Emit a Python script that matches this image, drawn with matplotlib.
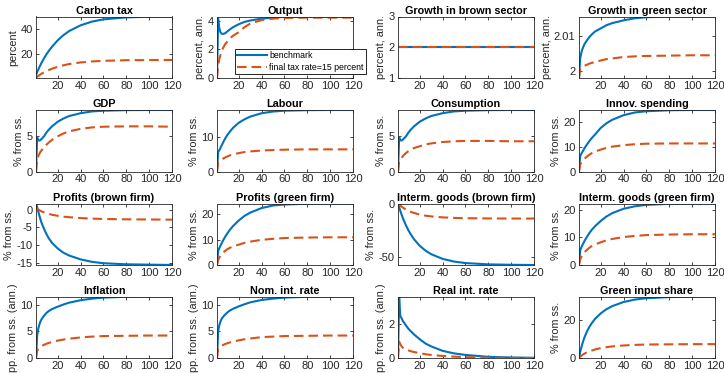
import matplotlib
matplotlib.use("Agg")
import matplotlib.pyplot as plt
from matplotlib.ticker import FixedLocator, FuncFormatter

plt.rcParams['font.family'] = ['Liberation Sans', 'DejaVu Sans']

# sample periods at which values were read
t = [1, 2, 3, 4, 5, 6, 8, 10, 12, 15, 20, 25, 30, 40, 50, 60, 80, 100, 120]

titles = ["Carbon tax", "Output", "Growth in brown sector", "Growth in green sector",
          "GDP", "Labour", "Consumption", "Innov. spending",
          "Profits (brown firm)", "Profits (green firm)", "Interm. goods (brown firm)", "Interm. goods (green firm)",
          "Inflation", "Nom. int. rate", "Real int. rate", "Green input share"]

ylabels = ["percent", "percent, ann.", "percent, ann.", "percent, ann.",
           "% from ss.", "% from ss.", "% from ss.", "% from ss.",
           "% from ss.", "% from ss.", "% from ss.", "% from ss.",
           "pp. from ss. (ann.)", "pp. from ss. (ann.)", "pp. from ss. (ann.)", "% from ss."]

benchmark = [
    # Carbon tax
    [3.0, 5.2, 7.3, 9.3, 11.2, 13.0, 16.3, 19.3, 22.0, 25.6, 30.8, 34.9, 38.2, 42.8, 45.8, 47.6, 49.2, 49.7, 49.9],
    # Output
    [0.0, 4.15, 3.5, 3.2, 3.1, 3.08, 3.12, 3.25, 3.38, 3.55, 3.76, 3.92, 4.02, 4.15, 4.23, 4.27, 4.3, 4.3, 4.3],
    # Growth brown
    [2.0] * 19,
    # Growth green
    [1.998, 2.0036, 2.0052, 2.0063, 2.0071, 2.0078, 2.0088, 2.0097, 2.0104, 2.0113, 2.0122, 2.0131, 2.0137, 2.0145, 2.0151, 2.0154, 2.0156, 2.0156, 2.0156],
    # GDP
    [0.0, 4.8, 4.4, 4.35, 4.45, 4.6, 4.95, 5.45, 5.85, 6.35, 7.0, 7.45, 7.8, 8.2, 8.45, 8.55, 8.63, 8.65, 8.65],
    # Labour
    [0.0, 5.8, 6.2, 6.9, 7.6, 8.3, 9.6, 10.7, 11.6, 12.8, 14.3, 15.3, 16.1, 17.1, 17.6, 17.85, 18.0, 18.05, 18.05],
    # Consumption
    [0.0, 4.8, 4.4, 4.35, 4.45, 4.6, 4.95, 5.45, 5.85, 6.35, 7.0, 7.45, 7.8, 8.2, 8.45, 8.55, 8.63, 8.65, 8.65],
    # Innov. spending
    [0.0, 6.3, 7.2, 8.0, 8.8, 9.6, 11.0, 12.3, 13.5, 15.0, 17.7, 19.6, 21.0, 22.9, 24.0, 24.5, 24.9, 25.0, 25.0],
    # Profits brown
    [1.8, 0.8, -0.5, -1.7, -2.8, -3.8, -5.4, -6.8, -8.0, -9.4, -11.0, -12.2, -13.0, -14.1, -14.8, -15.2, -15.5, -15.6, -15.7],
    # Profits green
    [0.0, 5.5, 6.6, 7.6, 8.5, 9.4, 11.0, 12.4, 13.7, 15.3, 17.5, 19.3, 20.6, 22.4, 23.4, 23.8, 24.1, 24.2, 24.2],
    # Interm brown
    [0.0, -3.5, -6.8, -9.9, -12.8, -15.5, -20.4, -24.7, -28.4, -33.2, -39.3, -43.8, -47.1, -51.5, -54.0, -55.4, -56.6, -57.0, -57.2],
    # Interm green
    [0.0, 5.3, 6.3, 7.2, 8.0, 8.8, 10.2, 11.5, 12.6, 14.0, 15.9, 17.5, 18.7, 20.3, 21.2, 21.7, 22.1, 22.2, 22.2],
    # Inflation
    [0.0, 4.2, 5.5, 6.3, 6.9, 7.3, 7.9, 8.4, 8.75, 9.15, 9.6, 10.0, 10.35, 10.8, 11.1, 11.3, 11.45, 11.5, 11.5],
    # Nom. int. rate
    [0.0, 5.0, 6.1, 6.8, 7.3, 7.6, 8.1, 8.5, 8.85, 9.2, 9.65, 10.05, 10.4, 10.85, 11.1, 11.3, 11.45, 11.5, 11.5],
    # Real int. rate
    [0.0, 3.6, 2.45, 2.35, 2.2, 2.1, 1.9, 1.72, 1.58, 1.38, 1.1, 0.85, 0.68, 0.42, 0.27, 0.18, 0.07, 0.03, 0.01],
    # Green input share
    [0.0, 3.2, 5.5, 7.6, 9.5, 11.2, 14.0, 16.3, 18.2, 20.6, 23.5, 25.7, 27.3, 29.5, 30.8, 31.5, 32.1, 32.3, 32.4],
]

tax15 = [
    [0.5, 1.5, 2.2, 2.85, 3.45, 4.0, 5.05, 6.0, 6.85, 7.95, 9.5, 10.7, 11.7, 13.0, 13.8, 14.3, 14.8, 14.9, 15.0],
    [0.0, 0.9, 1.3, 1.6, 1.85, 2.05, 2.35, 2.55, 2.75, 2.95, 3.2, 3.55, 3.8, 4.05, 4.15, 4.2, 4.22, 4.22, 4.22],
    [2.0] * 19,
    [1.998, 2.0005, 2.0008, 2.001, 2.0013, 2.0015, 2.0018, 2.0021, 2.0023, 2.0026, 2.003, 2.0034, 2.0036, 2.004, 2.0042, 2.0043, 2.0044, 2.0045, 2.0045],
    [0.0, 1.8, 2.2, 2.5, 2.8, 3.0, 3.4, 3.75, 4.05, 4.45, 4.95, 5.35, 5.65, 6.0, 6.2, 6.3, 6.35, 6.35, 6.3],
    [0.0, 2.6, 2.9, 3.2, 3.5, 3.7, 4.1, 4.4, 4.7, 5.0, 5.4, 5.7, 5.9, 6.15, 6.3, 6.4, 6.5, 6.5, 6.5],
    [0.0, 1.4, 1.7, 1.9, 2.1, 2.3, 2.6, 2.85, 3.05, 3.3, 3.55, 3.8, 3.95, 4.15, 4.25, 4.3, 4.3, 4.25, 4.25],
    [0.0, 2.8, 3.6, 4.2, 4.8, 5.3, 6.1, 6.8, 7.4, 8.1, 8.9, 9.6, 10.1, 10.7, 11.1, 11.3, 11.4, 11.4, 11.4],
    [0.5, 0.3, 0.1, -0.1, -0.3, -0.45, -0.7, -0.95, -1.15, -1.4, -1.7, -1.95, -2.1, -2.35, -2.5, -2.6, -2.7, -2.75, -2.8],
    [0.0, 2.0, 2.9, 3.6, 4.2, 4.7, 5.5, 6.2, 6.7, 7.3, 8.0, 8.7, 9.2, 9.9, 10.3, 10.6, 10.8, 10.9, 10.9],
    [0.0, -1.0, -2.0, -2.8, -3.6, -4.3, -5.6, -6.7, -7.7, -8.8, -10.3, -11.3, -12.0, -12.9, -13.4, -13.7, -13.9, -14.0, -14.0],
    [0.0, 2.0, 2.9, 3.6, 4.2, 4.7, 5.5, 6.2, 6.8, 7.4, 8.2, 8.9, 9.4, 10.1, 10.5, 10.8, 11.0, 11.1, 11.1],
    [0.0, 1.3, 1.7, 1.9, 2.1, 2.25, 2.45, 2.65, 2.8, 3.0, 3.25, 3.45, 3.6, 3.85, 4.0, 4.1, 4.15, 4.2, 4.2],
    [0.0, 1.8, 2.0, 2.15, 2.3, 2.4, 2.6, 2.75, 2.9, 3.05, 3.3, 3.5, 3.65, 3.9, 4.0, 4.1, 4.15, 4.2, 4.2],
    [0.0, 0.95, 0.8, 0.7, 0.62, 0.57, 0.5, 0.45, 0.4, 0.35, 0.28, 0.22, 0.18, 0.12, 0.08, 0.05, 0.02, 0.01, 0.0],
    [0.0, 0.7, 1.2, 1.6, 2.0, 2.4, 3.0, 3.5, 3.9, 4.5, 5.2, 5.7, 6.1, 6.6, 6.9, 7.1, 7.2, 7.3, 7.3],
]

yticks = [[20, 40], [0, 2, 4], [1, 2, 3], [2, 2.01],
          [0, 5], [0, 10], [0, 5], [0, 10, 20],
          [-15, -10, -5, 0], [0, 10, 20], [-50, 0], [0, 10, 20],
          [0, 5, 10], [0, 5, 10], [0, 2], [0, 20]]
xticks = [20, 40, 60, 80, 100, 120]

legend_labels = ["benchmark", "final tax rate=15 percent"]

blue = "#0072BD"
orange = "#D95319"
axcol = "#262626"

W, H = 724, 373
fig = plt.figure(figsize=(W / 100, H / 100), dpi=100)
lefts = [36, 217, 398, 579]
tops = [16.5, 110, 203.5, 296.5]
aw, ah = 136, 61.5

for i in range(16):
    r, c = divmod(i, 4)
    ax = fig.add_axes([lefts[c] / W, 1 - (tops[r] + ah) / H, aw / W, ah / H])
    lb, = ax.plot(t, benchmark[i], color=blue, lw=1.5, solid_joinstyle='round')
    lo, = ax.plot(t, tax15[i], color=orange, lw=1.5, dashes=(4.6, 2.4))
    ax.set_xlim(1, 120)
    if i == 2:
        ax.set_ylim(1, 3)
    else:
        lo_ = min(min(benchmark[i]), min(tax15[i]))
        hi_ = max(max(benchmark[i]), max(tax15[i]))
        ax.set_ylim(lo_, hi_)
    ax.xaxis.set_major_locator(FixedLocator(xticks))
    ax.yaxis.set_major_locator(FixedLocator(yticks[i]))
    ax.yaxis.set_major_formatter(FuncFormatter(lambda v, p: ('%g' % round(v, 4))))
    ax.tick_params(direction='in', length=2.5, width=0.6, labelsize=8.0, colors=axcol,
                   top=True, right=True, pad=2.5)
    ax.tick_params(axis='x', pad=2)
    for s in ax.spines.values():
        s.set_color(axcol)
        s.set_linewidth(0.6)
    ax.set_title(titles[i], fontsize=7.8, fontweight='bold', color='black', pad=2)
    ax.set_ylabel(ylabels[i], fontsize=7.8, color=axcol, labelpad=1.5)
    if i == 1:
        leg = fig.legend([lb, lo], legend_labels, loc='upper left',
                         bbox_to_anchor=(235 / W, 1 - 49 / H), fontsize=6.3,
                         frameon=True, fancybox=False, framealpha=1,
                         handlelength=3.4, handletextpad=0.25, borderpad=0.25,
                         labelspacing=0.3, borderaxespad=0)
        leg.get_frame().set_edgecolor('black')
        leg.get_frame().set_linewidth(0.6)

fig.savefig("out.png", dpi=100)
